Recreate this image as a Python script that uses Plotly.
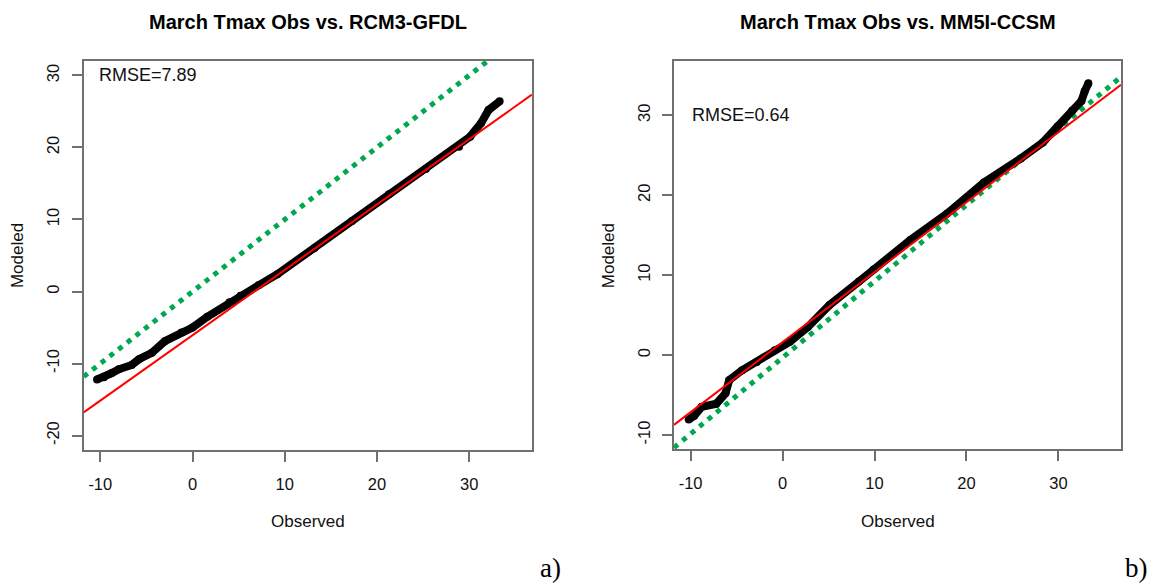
import plotly.graph_objects as go

# ---------------- data ----------------
obs_a = [-10.35, -9.6, -8.8, -8.0, -6.6, -5.8, -4.4, -3.0, -1.2, 0.0, 1.6, 4.0, 5.2,
         7.2, 9.2, 13.2, 17.3, 21.3, 25.3, 28.9, 30.1, 31.3, 32.1, 33.3]
mod_a = [-12.2, -11.9, -11.35, -10.8, -10.2, -9.4, -8.5, -6.9, -5.7, -5.0, -3.5, -1.5, -0.6,
         0.9, 2.4, 6.0, 9.8, 13.5, 17.0, 20.1, 21.5, 23.4, 25.2, 26.4]

obs_b = [-10.2, -9.6, -8.8, -7.2, -6.2, -5.8, -4.4, -2.8, -0.84, 0.8, 2.75, 5.1, 8.3,
         9.9, 13.9, 17.9, 21.9, 25.9, 28.3, 29.9, 31.5, 32.5, 32.85, 33.25]
mod_b = [-8.07, -7.6, -6.5, -6.1, -4.8, -3.15, -1.9, -0.86, 0.6, 1.65, 3.5, 6.25, 9.2,
         10.7, 14.4, 17.7, 21.6, 24.6, 26.6, 28.6, 30.6, 31.8, 33.0, 34.0]

# reference lines (intercept, slope)
red_a = (-6.07, 0.9075)
green_a = (0.0, 1.0)
red_b = (1.6, 0.876)
green_b = (-0.33, 0.955)

x_range = [-11.8, 36.8]
y_range_a = [-22.0, 32.0]
y_range_b = [-11.8, 36.8]
xticks = [-10, 0, 10, 20, 30]
xtick_labels = ["-10", "0", "10", "20", "30"]
yticks_a = [-20, -10, 0, 10, 20, 30]
ytick_labels_a = ["-20", "-10", "0", "10", "20", "30"]
yticks_b = [-10, 0, 10, 20, 30]
ytick_labels_b = ["-10", "0", "10", "20", "30"]

titles = ["March Tmax Obs vs. RCM3-GFDL", "March Tmax Obs vs. MM5I-CCSM"]
rmse_text = ["RMSE=7.89", "RMSE=0.64"]
panel_tags = ["a)", "b)"]

# ---------------- styling ----------------
W, H = 1156, 585
FONT = "Arial, Liberation Sans, sans-serif"
GRAY = "#707070"
GREEN = "#00A84F"
dom_a = [83.7 / W, 531.9 / W]
dom_b = [674.0 / W, 1121.0 / W]
ydom_a = [1 - 450.0 / H, 1 - 61.0 / H]
ydom_b = [1 - 449.3 / H, 1 - 61.0 / H]

fig = go.Figure()


def line_pts(ab):
    a, b = ab
    return [x_range[0], x_range[1]], [a + b * x_range[0], a + b * x_range[1]]


for i, (obs, mod, red, green) in enumerate(
        [(obs_a, mod_a, red_a, green_a), (obs_b, mod_b, red_b, green_b)]):
    xa = "x" if i == 0 else "x2"
    ya = "y" if i == 0 else "y2"
    gx, gy = line_pts(green)
    fig.add_trace(go.Scatter(x=gx, y=gy, mode="lines", xaxis=xa, yaxis=ya,
                             line=dict(color=GREEN, width=5, dash="5px,6px"),
                             showlegend=False, hoverinfo="skip"))
    fig.add_trace(go.Scatter(x=obs, y=mod, mode="lines+markers", xaxis=xa, yaxis=ya,
                             line=dict(color="black", width=8),
                             marker=dict(color="black", size=8),
                             showlegend=False))
    rx, ry = line_pts(red)
    fig.add_trace(go.Scatter(x=rx, y=ry, mode="lines", xaxis=xa, yaxis=ya,
                             line=dict(color="#FF0000", width=2),
                             showlegend=False, hoverinfo="skip"))

axis_common = dict(showline=True, linecolor=GRAY, linewidth=1.5, mirror=True,
                   ticks="outside", ticklen=10, tickwidth=1.5, tickcolor=GRAY,
                   showgrid=False, zeroline=False,
                   tickfont=dict(family=FONT, size=16.5, color="#111111"))

fig.update_layout(
    width=W, height=H, margin=dict(l=0, r=0, t=0, b=0),
    paper_bgcolor="white", plot_bgcolor="white",
    xaxis=dict(domain=dom_a, range=x_range, tickvals=xticks, ticktext=xtick_labels,
               anchor="y", ticklabelstandoff=8, **axis_common),
    yaxis=dict(domain=ydom_a, range=y_range_a, tickvals=yticks_a, ticktext=ytick_labels_a,
               anchor="x", tickangle=-90, ticklabelstandoff=6, **axis_common),
    xaxis2=dict(domain=dom_b, range=x_range, tickvals=xticks, ticktext=xtick_labels,
                anchor="y2", ticklabelstandoff=8, **axis_common),
    yaxis2=dict(domain=ydom_b, range=y_range_b, tickvals=yticks_b, ticktext=ytick_labels_b,
                anchor="x2", tickangle=-90, ticklabelstandoff=6, **axis_common),
)

ann = []
for i, dom in enumerate([dom_a, dom_b]):
    cx = (dom[0] + dom[1]) / 2
    ann.append(dict(text="<b>" + titles[i] + "</b>", x=cx, y=1 - 22 / H, xref="paper",
                    yref="paper", xanchor="center", yanchor="middle", showarrow=False,
                    font=dict(family=FONT, size=20, color="black")))
    ann.append(dict(text="Observed", x=cx, y=1 - 521 / H, xref="paper", yref="paper",
                    xanchor="center", yanchor="middle", showarrow=False,
                    font=dict(family=FONT, size=17, color="#111111")))
    mx = 17.6 / W if i == 0 else 608.7 / W
    ann.append(dict(text="Modeled", x=mx, y=1 - 255.5 / H, xref="paper", yref="paper",
                    xanchor="center", yanchor="middle", textangle=-90, showarrow=False,
                    font=dict(family=FONT, size=17, color="#111111")))
    ann.append(dict(text=rmse_text[i], x=-10.4 if i == 0 else -10.1, y=30,
                    xref="x" if i == 0 else "x2", yref="y" if i == 0 else "y2",
                    xanchor="left", yanchor="middle", showarrow=False,
                    font=dict(family=FONT, size=18, color="#111111")))
    tx = 563 / W if i == 0 else 1150 / W
    ann.append(dict(text=panel_tags[i], x=tx, y=0, xref="paper", yref="paper",
                    xanchor="right", yanchor="bottom", showarrow=False,
                    font=dict(family="Liberation Serif, Times New Roman, serif",
                              size=27, color="black")))
fig.update_layout(annotations=ann)

fig.write_html("out.html")
